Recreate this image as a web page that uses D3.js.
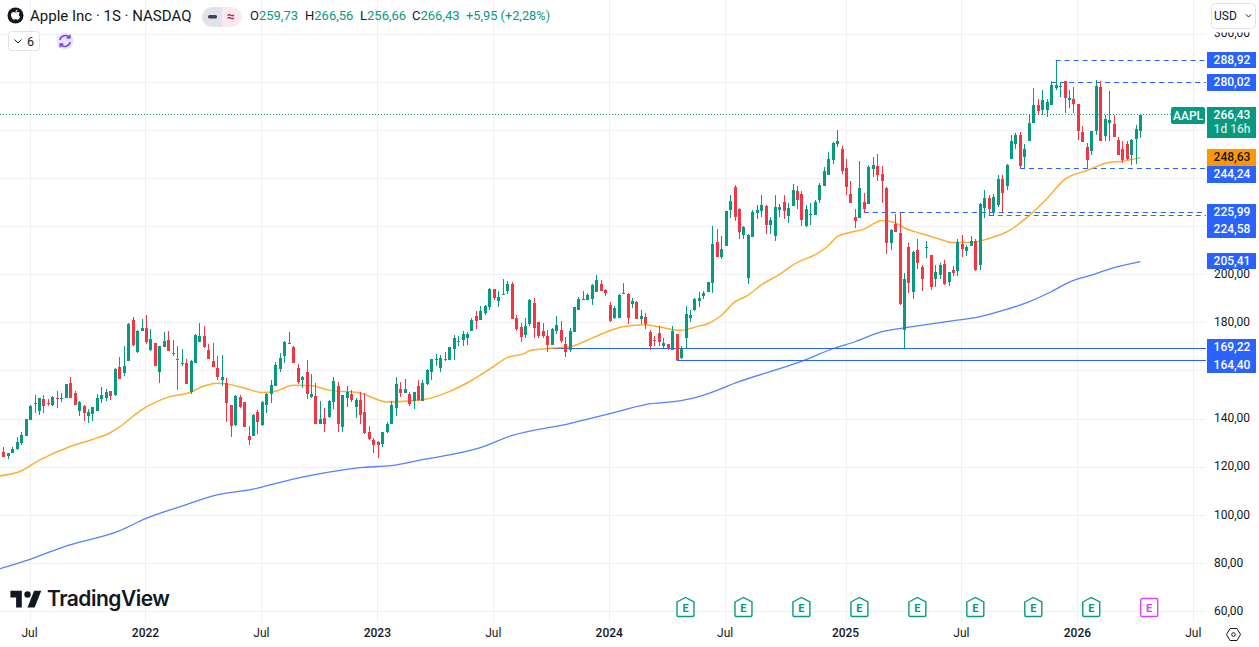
<!DOCTYPE html>
<html>
<head>
<meta charset="utf-8">
<title>Apple Inc - 1S - NASDAQ</title>
<script src="https://cdn.jsdelivr.net/npm/d3@7"></script>
<style>
    html, body { margin: 0; padding: 0; background: #fff; overflow: hidden; }
    svg { display: block; font-family: Roboto, sans-serif; }
</style>
</head>
<body>
<svg id="chart" width="1259" height="647"></svg>
<script>
// weekly candles, one value per week
const opens = [
    126.1,124.6,125.8,127.5,129.9,133.1,139.7,146.3,143.5,148.2,
    146.5,145.8,148.8,148.5,148.8,154.9,150.9,143.4,145.3,141.3,
    142.1,143.4,148.3,148.6,151.5,149.9,161.7,159.2,164.2,181.3,
    167.9,176.7,177.9,168.8,171.7,159.6,170.0,172.9,167.5,165.0,
    163.1,163.3,151.3,163.3,172.1,174.6,168.8,164.2,161.3,156.3,
    155.0,145.8,137.5,149.2,147.1,132.9,132.9,142.9,137.5,145.8,
    150.4,153.8,160.9,166.3,171.3,170.0,161.3,156.3,159.6,149.2,
    149.6,137.9,140.4,140.9,146.9,153.6,136.5,148.6,150.3,144.8,
    147.8,142.8,134.8,131.1,130.3,129.8,134.4,137.8,144.4,152.4,
    150.7,150.3,147.3,153.6,147.3,154.4,159.4,164.6,161.1,165.1,
    164.4,169.0,172.4,172.8,173.6,176.5,182.8,181.1,184.0,186.5,
    194.0,189.0,191.7,193.2,196.1,181.9,178.2,174.8,179.4,188.2,
    180.3,176.5,174.4,170.7,176.5,176.9,171.1,168.6,176.1,185.3,
    189.6,189.4,189.8,192.8,196.1,193.6,187.4,181.9,181.9,191.9,
    191.9,187.8,188.6,181.5,182.4,176.1,172.8,175.7,170.3,171.1,
    168.6,175.3,165.3,173.5,181.9,185.3,189.0,191.1,192.8,196.4,
    213.6,207.4,211.9,226.9,236.5,227.4,216.5,198.6,215.7,225.7,
    226.5,228.6,220.7,216.1,226.9,230.3,224.4,228.6,234.9,233.6,
    220.3,225.0,224.9,231.1,236.9,241.5,247.8,254.4,252.4,244.4,
    233.6,224.0,223.6,230.3,229.4,244.0,245.3,241.9,236.1,213.2,
    221.1,217.4,176.9,211.5,192.8,210.3,203.2,211.2,208.2,198.2,
    199.9,204.4,196.9,201.9,201.5,212.8,209.9,211.9,214.0,204.0,
    227.8,231.9,226.1,229.0,239.6,236.7,247.9,254.2,257.9,248.9,
    255.4,262.9,270.4,268.3,268.3,270.4,277.5,278.1,280.4,272.6,
    272.9,270.8,259.2,252.9,251.3,259.6,277.9,257.5,263.1,262.5,
    255.8,252.1,254.2,249.6,256.3,259.73
];
const highs = [
    128.3,126.0,128.3,132.5,134.6,140.0,145.7,150.0,148.8,150.0,
    148.3,149.6,151.7,150.9,154.6,157.5,151.7,147.4,145.9,144.2,
    145.0,150.4,153.4,152.5,151.5,161.3,165.9,170.4,179.9,182.5,
    177.1,181.7,183.3,177.5,171.7,170.4,176.3,176.7,172.9,170.4,
    169.2,165.0,164.6,175.4,180.0,178.8,171.3,171.7,166.3,166.7,
    157.1,145.8,150.0,150.0,147.1,137.1,142.1,143.8,147.5,150.9,
    156.3,163.8,167.5,172.5,176.3,170.4,162.9,157.9,164.6,158.8,
    155.0,147.5,144.6,147.9,157.4,155.3,149.9,153.6,151.9,148.6,
    151.1,150.7,136.9,131.9,130.7,134.8,138.6,147.4,157.4,155.3,
    156.5,151.1,151.1,156.1,156.1,160.7,164.8,166.9,166.5,167.8,
    169.8,174.9,174.4,176.5,176.1,181.9,184.9,186.9,187.4,194.4,
    194.0,193.2,198.2,197.4,196.9,183.2,179.8,181.9,189.8,190.3,
    180.3,179.8,176.9,177.8,182.8,180.7,174.0,177.8,186.5,190.7,
    193.2,192.3,196.1,199.9,197.8,194.0,188.6,186.9,191.9,196.5,
    192.4,190.3,189.0,185.3,184.0,176.9,174.4,178.6,173.6,171.1,
    178.6,175.3,170.3,186.9,185.3,190.3,192.8,193.2,196.9,220.3,
    219.0,216.1,226.5,233.2,237.4,227.8,220.3,216.9,226.9,229.0,
    233.2,229.0,224.0,233.2,229.4,233.2,229.9,237.8,236.9,234.9,
    229.0,229.9,231.1,238.2,244.9,251.1,255.3,260.3,253.6,248.2,
    239.0,227.4,247.4,234.0,245.7,249.0,250.3,245.3,236.5,219.0,
    225.3,225.7,200.7,213.2,209.9,214.9,204.0,214.0,208.2,204.0,
    204.9,206.1,201.1,203.6,214.9,216.5,212.4,216.1,214.9,229.9,
    235.3,233.2,233.6,241.5,241.3,246.1,257.9,258.9,259.3,254.2,
    266.7,277.5,273.1,276.7,272.9,280.4,288.92,280.1,280.4,276.7,
    277.9,270.8,261.7,254.6,259.6,280.85,280.4,266.3,276.3,266.3,
    257.1,255.4,255.4,256.3,262.1,266.56
];
const lows = [
    124.2,123.5,125.7,127.2,129.2,133.1,139.6,142.4,141.7,142.5,
    145.4,145.6,144.6,147.2,148.8,148.8,145.7,141.3,139.2,138.4,
    139.3,143.4,146.7,147.5,147.8,149.6,156.7,157.8,164.2,170.3,
    167.5,176.7,171.3,168.3,162.1,155.0,170.0,168.3,166.3,152.1,
    162.1,154.6,150.4,163.3,172.1,169.6,165.0,161.7,156.3,153.8,
    138.8,132.5,137.1,144.6,136.7,129.2,132.9,133.8,137.1,142.5,
    146.7,153.8,159.6,163.3,171.3,163.3,154.6,152.9,148.3,148.8,
    137.9,137.9,134.6,140.4,144.0,134.4,134.4,144.8,146.9,140.3,
    137.8,133.6,131.1,125.7,124.0,128.2,134.0,137.8,141.1,149.0,
    150.7,145.3,144.0,147.3,147.3,154.0,156.1,161.9,159.4,164.0,
    164.4,164.4,170.3,170.3,170.7,176.5,177.4,181.1,183.2,185.3,
    189.4,186.5,191.5,191.9,181.5,176.5,171.9,173.6,178.6,173.6,
    173.6,173.6,167.8,170.7,175.3,171.5,165.7,167.8,176.1,185.3,
    189.4,189.4,187.4,192.8,193.2,191.1,180.3,181.5,181.9,191.9,
    179.4,186.1,181.5,179.4,177.4,168.6,170.3,170.3,169.4,168.6,
    168.6,164.4,164.9,169.4,180.3,184.9,186.5,189.9,192.8,192.4,
    207.4,206.5,211.9,223.6,222.4,214.9,214.9,196.1,215.7,223.2,
    224.0,216.9,216.9,214.0,224.0,223.2,221.5,228.6,227.4,220.3,
    219.9,220.7,224.9,229.9,236.9,241.5,246.1,253.2,241.9,233.2,
    229.9,219.4,223.6,225.7,229.4,240.7,239.0,229.9,208.6,210.3,
    217.8,187.4,169.22,192.4,189.9,202.4,193.2,206.9,193.6,194.9,
    198.2,195.7,195.3,199.4,199.4,207.4,207.8,211.9,201.5,201.9,
    223.6,224.58,224.4,228.2,225.99,235.0,247.9,252.4,244.24,244.3,
    255.4,262.9,266.3,266.3,265.4,270.4,276.7,273.9,267.1,269.2,
    267.1,255.8,255.0,244.24,249.6,257.9,255.4,255.4,255.4,257.1,
    249.6,246.3,247.5,245.4,246.1,256.66
];
const closes = [
    124.2,125.8,127.5,130.4,133.3,140.0,145.4,146.5,148.8,145.4,
    146.1,149.2,148.5,148.8,154.6,148.8,145.8,147.1,142.5,142.9,
    145.0,148.8,149.9,151.3,149.6,160.9,156.7,162.1,179.6,170.9,
    176.7,177.9,172.1,173.3,162.1,170.4,172.5,168.3,167.1,164.7,
    163.3,154.6,164.2,175.0,174.6,170.0,165.0,161.7,157.5,157.5,
    146.7,137.1,149.6,145.0,136.7,131.3,141.7,138.8,147.1,150.4,
    154.2,162.5,165.4,172.1,171.7,163.3,155.4,157.5,150.4,150.4,
    137.9,140.0,137.9,147.5,155.7,138.0,149.9,151.1,147.8,147.8,
    141.5,134.0,131.5,129.4,129.0,134.8,137.8,145.7,154.4,150.7,
    152.4,146.1,151.1,147.8,154.9,160.3,164.8,164.8,165.3,164.8,
    169.8,173.6,172.6,175.3,175.3,181.1,180.7,184.9,186.9,194.0,
    190.3,190.7,191.9,196.1,181.5,177.4,174.0,178.6,189.4,177.8,
    174.4,174.4,170.7,177.4,179.0,172.4,167.8,176.5,186.5,189.8,
    189.8,191.5,195.7,197.8,193.2,192.4,180.7,186.1,191.5,192.2,
    181.9,189.0,181.5,182.8,179.4,170.3,172.5,171.9,171.5,169.0,
    176.5,164.4,169.4,183.6,183.2,189.9,190.3,192.4,196.9,212.8,
    207.4,210.7,226.5,230.7,224.0,217.8,219.9,216.5,226.1,226.9,
    229.0,220.7,222.8,228.2,228.2,226.5,227.8,235.3,231.1,222.8,
    227.4,225.3,230.3,237.4,243.2,248.2,254.9,255.7,243.2,236.5,
    229.9,222.4,236.1,227.4,244.9,245.7,241.5,239.0,213.2,218.6,
    217.8,187.8,198.2,196.5,209.4,204.9,198.2,211.5,194.9,201.1,
    204.0,196.1,201.1,200.7,213.6,210.7,211.5,214.0,201.9,229.4,
    231.9,227.4,232.4,239.9,233.9,245.4,255.4,257.9,245.0,252.1,
    262.9,270.4,267.9,272.5,271.7,278.8,278.8,278.3,273.3,273.2,
    270.8,259.6,255.0,247.5,259.6,278.3,255.4,264.6,264.2,257.1,
    249.6,247.5,247.9,255.8,260.4,266.43
];

// moving averages, read at a number of weeks along the line
const ma50Weeks = [-1,4,8,15,20,24,26,31,37,42,44,48,50,54,58,61,65,69,73,80,86,94,100,105,110,113,117,118,122,127,132,136,139,144,147,152,156,158,161,164,167,170,174,178,182,185,187,190,193,197,200,202,206,210,213,217,221,224,225,230,234,238,243,248,251,255];
const ma50Values = [116.3,118.4,122.8,128.6,131.5,134.3,136.6,143.8,149.1,151.1,153.0,154.9,154.6,152.9,151.0,151.5,154.0,153.9,152.0,150.8,147.1,148.0,151.4,156.0,161.9,165.5,167.3,168.4,169.3,170.0,173.6,176.7,178.3,179.2,178.3,176.9,178.6,179.6,183.0,188.6,191.4,195.7,200.0,205.0,208.2,212.0,215.8,217.6,218.9,222.5,221.6,219.5,217.0,214.7,213.3,213.3,215.0,216.9,217.7,224.4,231.5,239.5,243.3,246.6,247.1,248.63];
const ma200Weeks = [-1,6,14,26,32,40,47,56,59,67,73,80,87,94,107,114,127,136,144,152,156,165,180,186,191,197,202,214,218,224,230,235,239,244,248,255];
const ma200Values = [77.7,81.7,87.2,93.5,98.7,103.8,108.1,110.9,112.2,115.8,117.9,119.8,120.6,123.1,128.1,133.1,138.1,142.2,146.0,147.6,149.3,155.5,164.7,169.2,172.1,176.3,177.9,181.1,182.1,185.0,188.7,192.9,196.8,199.8,202.3,205.41];

// price axis and time axis
const priceGrid = [60,80,100,120,140,160,180,200,220,240,260,280,300];
const priceTicks = [60,80,100,120,140,180,200,300]; // the others sit behind the axis labels
const timeTickWeeks = [6,32,58,84,110,136,162,189,215,241,267];
const timeTickLabels = ['Jul','2022','Jul','2023','Jul','2024','Jul','2025','Jul','2026','Jul'];
const earningsWeeks = [153,166,179,192,205,218,231,244];
const nextEarningsWeek = 257;

// levels drawn across the chart and their axis labels
const levelPrices = [288.92,280.02,244.24,225.99,224.58,169.22,164.40];
const levelStartWeeks = [236,235,228,193,221,122,151];
const levelDashed = [true,true,true,true,true,false,false];

const BLUE = '#2962FF', GREEN = '#089981', RED = '#F23645', ORANGE = '#FF9800', INK = '#131722', GRID = '#F0F1F3';
const PANE_RIGHT = 1206, PANE_BOTTOM = 622;

const fmt = v => v.toFixed(2).replace('.', ',');
const svg = d3.select('#chart');

const x = d3.scaleLinear().domain([0, 255]).range([3.3, 1140.3]);
const y = d3.scaleLinear().domain([60, 300]).range([611.5, 34]);
const levelY = p => Math.floor(y(p)) + 0.5;

// 网格
const grid = svg.append('g').attr('shape-rendering', 'crispEdges');
grid.selectAll('.h').data(priceGrid).enter().append('line')
    .attr('x1', 0).attr('x2', PANE_RIGHT)
    .attr('y1', d => y(d)).attr('y2', d => y(d))
    .attr('stroke', GRID);
grid.selectAll('.v').data(timeTickWeeks).enter().append('line')
    .attr('x1', d => x(d)).attr('x2', d => x(d))
    .attr('y1', 0).attr('y2', PANE_BOTTOM)
    .attr('stroke', GRID);

// levels
levelPrices.forEach((p, i) => {
    svg.append('line')
        .attr('x1', x(levelStartWeeks[i])).attr('x2', PANE_RIGHT)
        .attr('y1', levelY(p)).attr('y2', levelY(p))
        .attr('stroke', BLUE)
        .attr('stroke-dasharray', levelDashed[i] ? '5 4' : null);
});

// last price
svg.append('line')
    .attr('x1', 0).attr('x2', 1171)
    .attr('y1', levelY(266.43)).attr('y2', levelY(266.43))
    .attr('stroke', GREEN).attr('stroke-dasharray', '1 2');

// moving averages
const maLine = d3.line().x(d => x(d[0])).y(d => y(d[1])).curve(d3.curveMonotoneX);
svg.append('path').attr('d', maLine(d3.zip(ma200Weeks, ma200Values)))
    .attr('fill', 'none').attr('stroke', BLUE).attr('stroke-opacity', 0.8).attr('stroke-width', 1.3);
svg.append('path').attr('d', maLine(d3.zip(ma50Weeks, ma50Values)))
    .attr('fill', 'none').attr('stroke', ORANGE).attr('stroke-opacity', 0.8).attr('stroke-width', 1.5);

// candles
const candles = svg.append('g').attr('shape-rendering', 'crispEdges')
    .selectAll('g').data(d3.range(opens.length)).enter().append('g')
    .attr('fill', i => closes[i] >= opens[i] ? GREEN : RED);
candles.append('rect')
    .attr('x', i => Math.round(x(i)))
    .attr('width', 1)
    .attr('y', i => y(highs[i]))
    .attr('height', i => y(lows[i]) - y(highs[i]));
candles.append('rect')
    .attr('x', i => Math.round(x(i)) - 1)
    .attr('width', 3)
    .attr('y', i => y(Math.max(opens[i], closes[i])))
    .attr('height', i => Math.max(1, Math.abs(y(opens[i]) - y(closes[i]))));

// price axis
const priceAxis = d3.axisRight(y).tickValues(priceTicks).tickFormat(fmt).tickSize(0).tickPadding(0);
const priceG = svg.append('g').attr('transform', 'translate(1214,-1)').call(priceAxis);
priceG.select('.domain').remove();
priceG.selectAll('text').attr('font-size', 12).attr('font-family', 'Roboto').attr('fill', INK);

// time axis
const timeAxis = d3.axisBottom(x).tickValues(timeTickWeeks)
    .tickFormat((d, i) => timeTickLabels[i]).tickSize(0).tickPadding(0);
const timeG = svg.append('g').attr('transform', 'translate(-1,628.5)').call(timeAxis);
timeG.select('.domain').remove();
timeG.selectAll('text').attr('font-size', 12).attr('font-family', 'Roboto').attr('fill', INK)
    .attr('font-weight', (d, i) => timeTickLabels[i] === 'Jul' ? 400 : 500);

// earnings markers
const housePath = 'M-8.5,-5 L0,-9.5 L8.5,-5 V8 a1.5,1.5 0 0 1 -1.5,1.5 H-7 a1.5,1.5 0 0 1 -1.5,-1.5 Z';
const marks = svg.selectAll('.earn').data(earningsWeeks).enter().append('g')
    .attr('transform', d => `translate(${x(d)},607)`);
marks.append('path').attr('d', housePath).attr('fill', '#fff').attr('stroke', GREEN).attr('stroke-width', 1.4);
marks.append('text').text('E').attr('text-anchor', 'middle').attr('y', 4.5)
    .attr('font-size', 11).attr('font-weight', 700).attr('fill', GREEN);
const nextMark = svg.append('g').attr('transform', `translate(${x(nextEarningsWeek)},607)`);
nextMark.append('rect').attr('x', -8.5).attr('y', -8.5).attr('width', 17).attr('height', 18).attr('rx', 1.5)
    .attr('fill', '#fff').attr('stroke', '#E040FB').attr('stroke-width', 1.4);
nextMark.append('text').text('E').attr('text-anchor', 'middle').attr('y', 4.5)
    .attr('font-size', 11).attr('font-weight', 700).attr('fill', '#E040FB');

// axis labels
function axisBox(top, h, fill) {
    svg.append('rect').attr('x', 1207).attr('y', top).attr('width', 49).attr('height', h)
        .attr('fill', fill).attr('shape-rendering', 'crispEdges');
}
function axisText(t, cy, fill, op) {
    svg.append('text').text(t).attr('x', 1232).attr('y', cy)
        .attr('dy', '0.35em').attr('text-anchor', 'middle')
        .attr('font-size', 12).attr('font-weight', 500).attr('fill', fill)
        .attr('fill-opacity', op || 1);
}
axisBox(52, 16, BLUE); axisText(fmt(levelPrices[0]), 60, '#fff');
axisBox(74, 17, BLUE); axisText(fmt(levelPrices[1]), 82, '#fff');
axisBox(107, 31, GREEN); axisText('266,43', 115, '#fff'); axisText('1d 16h', 129, '#fff', 0.8);
axisBox(149, 17, ORANGE); axisText('248,63', 157, INK);
axisBox(166, 17, BLUE); axisText(fmt(levelPrices[2]), 174, '#fff');
axisBox(204, 34, BLUE); axisText(fmt(levelPrices[3]), 212, '#fff'); axisText(fmt(levelPrices[4]), 229, '#fff');
axisBox(253, 16, BLUE); axisText('205,41', 261, '#fff');
axisBox(339, 34, BLUE); axisText(fmt(levelPrices[5]), 347, '#fff'); axisText(fmt(levelPrices[6]), 365, '#fff');
svg.append('rect').attr('x', 1171).attr('y', 107).attr('width', 34).attr('height', 17).attr('rx', 2).attr('fill', GREEN);
svg.append('text').text('AAPL').attr('x', 1188).attr('y', 115.5).attr('dy', '0.35em')
    .attr('text-anchor', 'middle').attr('font-size', 12).attr('font-weight', 500).attr('fill', '#fff');

// USD box, covers the top of the 300 label
svg.append('rect').attr('x', 1207).attr('y', 0).attr('width', 52).attr('height', 32.5).attr('fill', '#fff');
svg.append('rect').attr('x', 1211.5).attr('y', 3.5).attr('width', 44).attr('height', 25).attr('rx', 4)
    .attr('fill', '#fff').attr('stroke', '#E0E3EB');
svg.append('text').text('USD').attr('x', 1214).attr('y', 20).attr('font-size', 12).attr('fill', INK);
svg.append('path').attr('d', 'M1246,14.5 l2.5,2.5 l2.5,-2.5').attr('fill', 'none').attr('stroke', INK);

// legend, first row
svg.append('circle').attr('cx', 15.5).attr('cy', 15.5).attr('r', 8).attr('fill', INK);
svg.append('path')
    .attr('d', 'M15.6,12.6c.9,0 1.5,-.6 2.4,-.6c.7,0 1.4,.4 1.8,1c-1.5,.9 -1.3,3 .3,3.7c-.4,1.2 -1.3,3 -2.4,3c-.7,0 -1,-.4 -1.9,-.4c-.9,0 -1.2,.4 -1.9,.4c-1.4,0 -2.9,-2.7 -2.9,-4.7c0,-2 1.2,-3 2.5,-3c.8,0 1.4,.6 2.1,.6zM15.5,12.1c-.1,-1.2 .8,-2.2 2,-2.4c.1,1.2 -.8,2.3 -2,2.4z')
    .attr('fill', '#fff');
svg.append('text').text('Apple Inc · 1S · NASDAQ').attr('x', 30).attr('y', 20.5)
    .attr('font-size', 15).attr('fill', INK);

svg.append('path').attr('d', 'M222,7H212a10,10 0 0 0 0,20H222Z').attr('fill', '#E0E3EB');
svg.append('path').attr('d', 'M222,7H232a10,10 0 0 1 0,20H222Z').attr('fill', '#FCE9F0');
svg.append('rect').attr('x', 208).attr('y', 15).attr('width', 9).attr('height', 3.5).attr('rx', 1.5).attr('fill', '#3f4350');
svg.append('text').text('≈').attr('x', 231).attr('y', 21).attr('text-anchor', 'middle')
    .attr('font-size', 14).attr('font-weight', 700).attr('fill', '#C2185B');

const legendLetters = ['O', 'H', 'L', 'C'];
const legendValues = [259.73, 266.56, 256.66, 266.43];
const legendX = [250, 305, 360, 412];
legendLetters.forEach((l, i) => {
    const t = svg.append('text').attr('x', legendX[i]).attr('y', 20).attr('font-size', 13);
    t.append('tspan').text(l).attr('fill', INK);
    t.append('tspan').text(fmt(legendValues[i])).attr('fill', GREEN);
});
svg.append('text').text('+5,95 (+2,28%)').attr('x', 466).attr('y', 20).attr('font-size', 12.8).attr('fill', GREEN);

// legend, second row
svg.append('rect').attr('x', 8.5).attr('y', 31.5).attr('width', 31).attr('height', 19).attr('rx', 3)
    .attr('fill', '#fff').attr('stroke', '#E0E3EB');
svg.append('path').attr('d', 'M14.5,39.5 l3.5,3.5 l3.5,-3.5').attr('fill', 'none').attr('stroke', INK);
svg.append('text').text('6').attr('x', 27).attr('y', 45.5).attr('font-size', 12.5).attr('fill', INK);
svg.append('circle').attr('cx', 65).attr('cy', 41).attr('r', 8.5).attr('fill', '#E9E4FB');
svg.append('path')
    .attr('d', 'M59.8,40 a5.5,5.5 0 0 1 9.6,-2.4 M70.2,42 a5.5,5.5 0 0 1 -9.6,2.4 M69.8,34.8 v3.2 h-3.2 M60.2,47.2 v-3.2 h3.2')
    .attr('fill', 'none').attr('stroke', '#7A3FF2').attr('stroke-width', 1.5);

// logo
svg.append('path')
    .attr('transform', 'translate(8.5,584) scale(0.95,1.12)')
    .attr('d', 'M14,6H2v6h6v9h6Z M27.5,21H20L27,6h7.5Z')
    .attr('fill', INK);
svg.append('circle').attr('cx', 27.5).attr('cy', 594.5).attr('r', 3.2).attr('fill', INK);
svg.append('text').text('TradingView').attr('x', 47).attr('y', 606)
    .attr('font-family', 'Inter').attr('font-size', 21).attr('font-weight', 600)
    .attr('letter-spacing', -0.5).attr('fill', INK);

// settings icon
svg.append('path').attr('d', 'M1226.5,634.5 l3.5,-6 h7 l3.5,6 l-3.5,6 h-7 Z')
    .attr('fill', 'none').attr('stroke', INK);
svg.append('circle').attr('cx', 1233.5).attr('cy', 634.5).attr('r', 1.8).attr('fill', 'none').attr('stroke', INK);
</script>
</body>
</html>
